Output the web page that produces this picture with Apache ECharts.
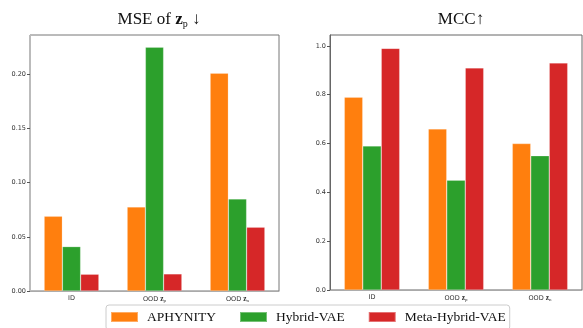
<!DOCTYPE html>
<html>
<head>
<meta charset="utf-8">
<script src="https://cdn.jsdelivr.net/npm/echarts@6/dist/echarts.min.js"></script>
<style>
  html, body { margin: 0; padding: 0; background: #fff; }
  #chart { width: 583px; height: 328px; }
</style>
</head>
<body>
<div id="chart"></div>
<script>
// Evaluation splits (z_p / z_n get a bold z with a subscript)
const categories = ['ID', 'OOD z_p', 'OOD z_n'];
const methods = ['APHYNITY', 'Hybrid-VAE', 'Meta-Hybrid-VAE'];
const colors = ['#ff7f0e', '#2ca02c', '#d62728'];

// MSE of z_p (lower is better)
const mseAphynity = [0.069, 0.0776, 0.201];
const mseHybrid = [0.041, 0.225, 0.085];
const mseMeta = [0.0155, 0.0158, 0.059];

// MCC (higher is better)
const mccAphynity = [0.79, 0.66, 0.60];
const mccHybrid = [0.59, 0.45, 0.55];
const mccMeta = [0.99, 0.91, 0.93];

const mseTicks = { interval: 0.05, max: 0.2363 };
const mccTicks = { interval: 0.2, max: 1.0447 };

const chart = echarts.init(document.getElementById('chart'), null, { renderer: 'canvas' });

const serif = '"Liberation Serif", "Times New Roman", serif';
const sans = '"DejaVu Sans", sans-serif';

function catLabel(v) {
  const m = v.match(/^(.*)z_(\w)$/);
  if (!m) return '{n|' + v + '}';
  return '{n|' + m[1] + '}{z|z}{s|' + m[2] + '}';
}

const catRich = {
  n: { fontSize: 6.5, fontFamily: sans, color: '#333' },
  z: { fontSize: 7.5, fontFamily: serif, fontWeight: 'bold', color: '#333' },
  s: { fontSize: 5, fontFamily: serif, color: '#333', padding: [3, 0, 0, 0] }
};

function xAxisFor(gi, lineColor) {
  return {
    type: 'category', gridIndex: gi, data: categories,
    axisLine: { lineStyle: { color: lineColor, width: 1 } },
    axisTick: { alignWithLabel: true, length: 3, lineStyle: { color: '#555' } },
    axisLabel: { interval: 0, margin: 4, formatter: catLabel, rich: catRich }
  };
}

function yAxisFor(gi, ticks, digits, lineColor) {
  return {
    type: 'value', gridIndex: gi, min: 0, max: ticks.max, interval: ticks.interval,
    splitLine: { show: false },
    axisLine: { show: true, lineStyle: { color: lineColor, width: 1 } },
    axisTick: { show: true, length: 3, lineStyle: { color: '#555' } },
    axisLabel: {
      showMaxLabel: false, margin: 4, fontSize: 6.5, fontFamily: sans, color: '#333',
      formatter: v => v.toFixed(digits)
    }
  };
}

function barSeries(name, data, idx, gi) {
  return {
    name, type: 'bar', data, xAxisIndex: gi, yAxisIndex: gi,
    barGap: '0%', barCategoryGap: '34%',
    itemStyle: { color: colors[idx], borderColor: 'rgba(255,255,255,0.35)', borderWidth: 0.6 },
    emphasis: { disabled: true }
  };
}

chart.setOption({
  animation: false,
  backgroundColor: '#fff',
  title: [
    {
      left: 154, top: 6, textAlign: 'center',
      text: '{t|MSE of }{z|z}{s|p}{t| ↓}',
      textStyle: {
        fontWeight: 'normal',
        rich: {
          t: { fontSize: 17, fontFamily: serif, fontWeight: 'normal', color: '#111' },
          z: { fontSize: 17, fontFamily: serif, fontWeight: 'bold', color: '#111' },
          s: { fontSize: 10, fontFamily: serif, fontWeight: 'normal', color: '#111', padding: [8, 0, 0, 0] }
        }
      }
    },
    {
      left: 456, top: 6, textAlign: 'center',
      text: 'MCC↑',
      textStyle: { fontSize: 17, fontFamily: serif, fontWeight: 'normal', color: '#111' }
    }
  ],
  grid: [
    { left: 30, top: 35, width: 249, height: 256, show: true, borderColor: '#777', borderWidth: 1, containLabel: false },
    { left: 330, top: 35, width: 252, height: 255, show: true, borderColor: '#666', borderWidth: 1, containLabel: false }
  ],
  xAxis: [xAxisFor(0, '#aaa'), xAxisFor(1, '#aaa')],
  yAxis: [yAxisFor(0, mseTicks, 2, '#bbb'), yAxisFor(1, mccTicks, 1, '#666')],
  legend: {
    data: methods,
    left: 106, top: 305,
    orient: 'horizontal',
    itemWidth: 27, itemHeight: 10, itemGap: 23,
    padding: [5, 4, 6, 4],
    borderColor: '#ccc', borderWidth: 1, borderRadius: 3,
    backgroundColor: '#fff',
    icon: 'rect',
    textStyle: { fontSize: 13.5, fontFamily: serif, color: '#111', padding: [0, 0, 0, 4] }
  },
  series: [
    barSeries(methods[0], mseAphynity, 0, 0),
    barSeries(methods[1], mseHybrid, 1, 0),
    barSeries(methods[2], mseMeta, 2, 0),
    barSeries(methods[0], mccAphynity, 0, 1),
    barSeries(methods[1], mccHybrid, 1, 1),
    barSeries(methods[2], mccMeta, 2, 1)
  ]
});
</script>
</body>
</html>
